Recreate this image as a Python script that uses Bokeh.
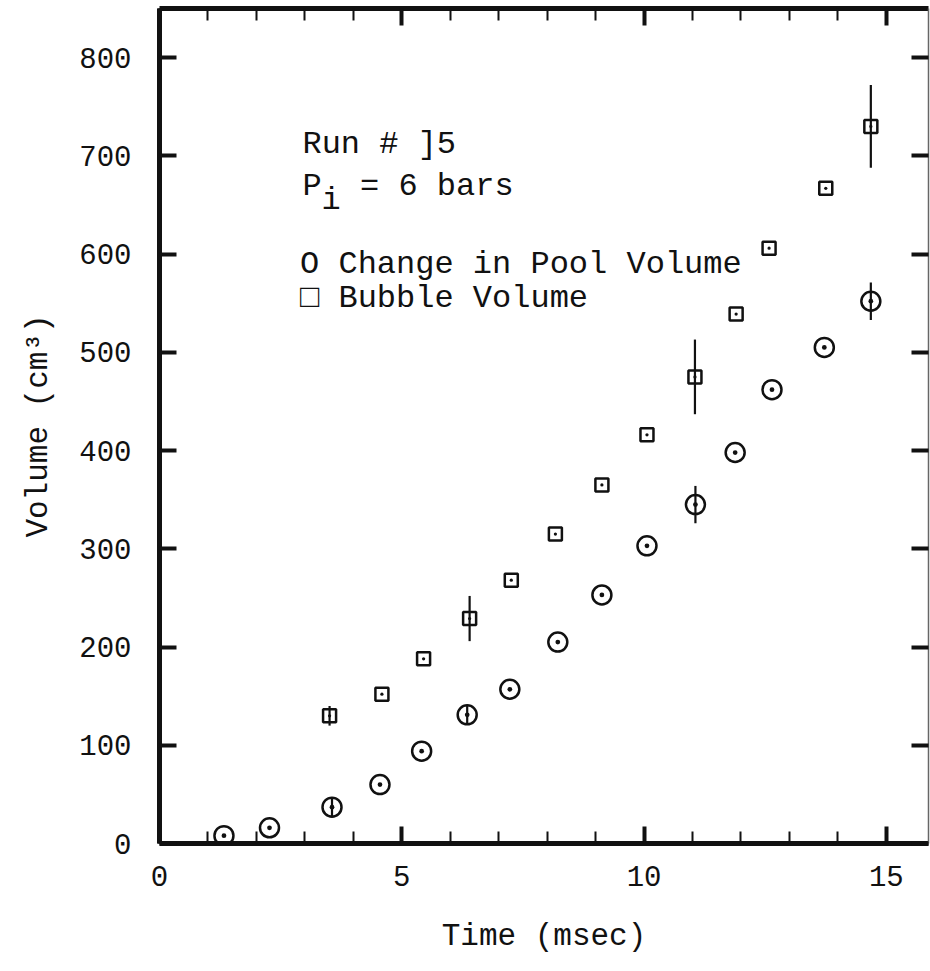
from bokeh.plotting import figure
from bokeh.models import LinearAxis, SingleIntervalTicker, Range1d, Label, ColumnDataSource
from bokeh.embed import file_html
from bokeh.resources import INLINE

# ---- data ----
pool_time = [1.33, 2.27, 3.56, 4.55, 5.41, 6.35, 7.23, 8.22, 9.13, 10.06, 11.06, 11.88, 12.64, 13.72, 14.68]
pool_vol = [8, 16, 37, 60, 94, 131, 157, 205, 253, 303, 345, 398, 462, 505, 552]
pool_err = [0, 0, 9, 0, 0, 9, 0, 0, 0, 0, 19, 0, 0, 0, 19]

bubble_time = [3.51, 4.59, 5.45, 6.40, 7.26, 8.17, 9.13, 10.06, 11.05, 11.90, 12.58, 13.75, 14.68]
bubble_vol = [130, 152, 188, 229, 268, 315, 365, 416, 475, 539, 606, 667, 730]
bubble_err = [10, 0, 0, 23, 0, 0, 0, 0, 38, 0, 0, 0, 42]

x_tick_interval = 5
y_tick_interval = 100

FONT = "Liberation Mono"
INK = "#111111"

p = figure(width=930, height=963, output_backend="svg", toolbar_location=None,
           x_range=Range1d(0, 15.87), y_range=Range1d(0, 850),
           min_border_left=159, min_border_right=2, min_border_top=8, min_border_bottom=120,
           x_axis_label="Time (msec)", y_axis_label="Volume (cm³)")

p.xgrid.visible = False
p.ygrid.visible = False
p.outline_line_color = None
p.background_fill_color = "white"
p.border_fill_color = "white"


def hide_labels(ax):
    ax.major_label_text_color = None
    ax.major_label_text_font_size = "1px"
    ax.major_label_standoff = 0


def style_x(ax, show_labels):
    ax.ticker = SingleIntervalTicker(interval=x_tick_interval, num_minor_ticks=5)
    ax.axis_line_width = 5
    ax.axis_line_color = INK
    ax.major_tick_in = 17
    ax.major_tick_out = 0
    ax.major_tick_line_width = 4
    ax.major_tick_line_color = INK
    ax.minor_tick_in = 12
    ax.minor_tick_out = 0
    ax.minor_tick_line_width = 2
    ax.minor_tick_line_color = INK
    if show_labels:
        ax.major_label_text_font = FONT
        ax.major_label_text_font_size = "29px"
        ax.major_label_text_color = INK
        ax.major_label_standoff = 22
        ax.axis_label_text_font = FONT
        ax.axis_label_text_font_size = "31px"
        ax.axis_label_text_font_style = "normal"
        ax.axis_label_text_color = INK
        ax.axis_label_standoff = 30
    else:
        hide_labels(ax)


def style_y(ax, show_labels):
    ax.ticker = SingleIntervalTicker(interval=y_tick_interval, num_minor_ticks=0)
    ax.axis_line_width = 5
    ax.axis_line_color = INK
    ax.major_tick_in = 17
    ax.major_tick_out = 0
    ax.major_tick_line_width = 4
    ax.major_tick_line_color = INK
    ax.minor_tick_line_color = None
    if show_labels:
        ax.major_label_text_font = FONT
        ax.major_label_text_font_size = "29px"
        ax.major_label_text_color = INK
        ax.major_label_standoff = 28
        ax.axis_label_text_font = FONT
        ax.axis_label_text_font_size = "31px"
        ax.axis_label_text_font_style = "normal"
        ax.axis_label_text_color = INK
        ax.axis_label_standoff = 20
    else:
        hide_labels(ax)


style_x(p.xaxis[0], True)
style_y(p.yaxis[0], True)

top_axis = LinearAxis()
style_x(top_axis, False)
p.add_layout(top_axis, "above")

right_axis = LinearAxis()
style_y(right_axis, False)
right_axis.axis_line_width = 1.5
right_axis.axis_line_color = "#666666"
p.add_layout(right_axis, "right")

# ---- error bars ----
pe_x = [t for t, e in zip(pool_time, pool_err) if e > 0]
pe_lo = [v - e for v, e in zip(pool_vol, pool_err) if e > 0]
pe_hi = [v + e for v, e in zip(pool_vol, pool_err) if e > 0]
be_x = [t for t, e in zip(bubble_time, bubble_err) if e > 0]
be_lo = [v - e for v, e in zip(bubble_vol, bubble_err) if e > 0]
be_hi = [v + e for v, e in zip(bubble_vol, bubble_err) if e > 0]

p.segment(x0=pe_x, y0=pe_lo, x1=pe_x, y1=pe_hi, line_color=INK, line_width=2.2)
p.segment(x0=be_x, y0=be_lo, x1=be_x, y1=be_hi, line_color=INK, line_width=2.2)

# ---- markers ----
pool_src = ColumnDataSource(dict(x=pool_time, y=pool_vol))
bubble_src = ColumnDataSource(dict(x=bubble_time, y=bubble_vol))
p.scatter("x", "y", source=pool_src, marker="circle_dot", size=19,
          line_color=INK, line_width=2.5, fill_color=None)
p.scatter("x", "y", source=bubble_src, marker="square_dot", size=13,
          line_color=INK, line_width=2.5, fill_color=None)

# ---- annotations ----
NB = "\u00a0"
ann = dict(text_font=FONT, text_font_size="32px", text_color=INK, text_baseline="middle")
p.add_layout(Label(x=2.95, y=712, text="Run # ]5", **ann))
p.add_layout(Label(x=2.95, y=669, text="P" + NB + NB + "= 6 bars", **ann))
p.add_layout(Label(x=2.95, y=669, x_offset=19, y_offset=-14, text="i", **ann))
p.add_layout(Label(x=2.90, y=589, text="O Change in Pool Volume", **ann))
p.add_layout(Label(x=2.90, y=555, text="□ Bubble Volume", **ann))

open("out.html", "w").write(file_html(p, INLINE))
